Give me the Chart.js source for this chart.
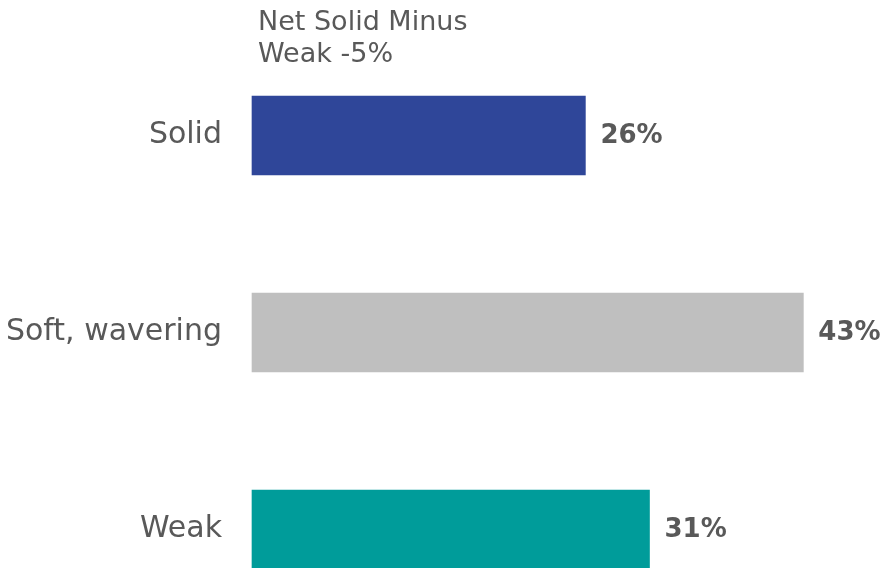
<!DOCTYPE html>
<html lang="en">
<head>
  <meta charset="UTF-8">
  <title>Net Solid Minus Weak</title>
  <script src="https://cdn.jsdelivr.net/npm/chart.js"></script>
  <style>
    body { margin: 0; background: #fff; }
    #wrap { width: 886px; height: 568px; position: relative; }
  </style>
</head>
<body>

<div id="wrap">
  <canvas id="strengthChart"></canvas>
</div>

<script>
const categories = ['Solid', 'Soft, wavering', 'Weak'];
const shares = [26, 43, 31];
const barColors = ['#2F4699', '#BFBFBF', '#009C9A'];
const headline = ['Net Solid Minus', 'Weak -5%'];

const FONT = "'DejaVu Sans', sans-serif";
const GREY = '#595959';

// headline text over the top bar, plus the % value to the right of each bar
const annotate = {
  id: 'annotate',
  afterDatasetsDraw(chart) {
    const ctx = chart.ctx;
    ctx.save();
    ctx.fillStyle = GREY;
    ctx.font = '27px ' + FONT;
    ctx.textAlign = 'left';
    ctx.textBaseline = 'alphabetic';
    ctx.fillText(headline[0], 258, 30);
    ctx.fillText(headline[1], 258, 62);

    ctx.font = 'bold 26px ' + FONT;
    ctx.textBaseline = 'middle';
    chart.getDatasetMeta(0).data.forEach((bar, i) => {
      ctx.fillText(shares[i] + '%', bar.x + 15, bar.y + 1);
    });
    ctx.restore();
  }
};

new Chart(document.getElementById('strengthChart'), {
  type: 'bar',
  data: {
    labels: categories,
    datasets: [{
      data: shares,
      backgroundColor: barColors,
      barThickness: 79,
      clip: false
    }]
  },
  options: {
    indexAxis: 'y',
    responsive: true,
    maintainAspectRatio: false,
    animation: false,
    layout: { padding: { top: 135.5, bottom: 38.5, right: 57, left: 0 } },
    plugins: {
      legend: { display: false },
      tooltip: { enabled: false }
    },
    scales: {
      x: { display: false, min: 0, max: 45 },
      y: {
        offset: false,
        grid: { display: false },
        border: { display: false },
        ticks: {
          padding: 22,
          color: GREY,
          font: { family: FONT, size: 30, lineHeight: 1 }
        },
        afterFit(scale) { scale.width = 252; }
      }
    }
  },
  plugins: [annotate]
});
</script>

</body>
</html>
